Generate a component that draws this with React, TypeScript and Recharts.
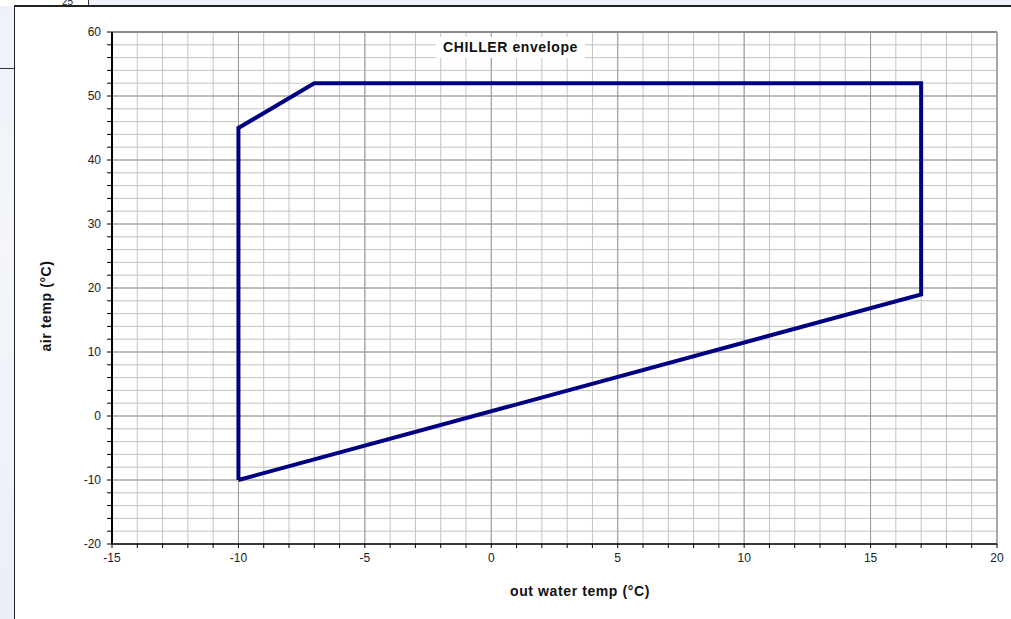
import { LineChart, Line, XAxis, YAxis, CartesianGrid, ReferenceLine } from "recharts";

// operating envelope outline, closed back to its first corner
const envelopeX = [-10, -10, -7, 17, 17, -10];
const envelopeY = [-10, 45, 52, 52, 19, -10];

const xTicks = [
  -15, -14, -13, -12, -11, -10, -9, -8, -7, -6, -5, -4, -3, -2, -1, 0, 1, 2, 3, 4,
  5, 6, 7, 8, 9, 10, 11, 12, 13, 14, 15, 16, 17, 18, 19, 20,
];
const yTicks = [
  -20, -18, -16, -14, -12, -10, -8, -6, -4, -2, 0, 2, 4, 6, 8, 10, 12, 14, 16, 18,
  20, 22, 24, 26, 28, 30, 32, 34, 36, 38, 40, 42, 44, 46, 48, 50, 52, 54, 56, 58, 60,
];
const xMajor = [-10, -5, 0, 5, 10, 15];
const yMajor = [-10, 0, 10, 20, 30, 40, 50];

const data = envelopeX.map((x, i) => ({ x, y: envelopeY[i] }));

const FONT = "'Liberation Sans', Arial, sans-serif";

const App = () => {
  return (
    <div
      style={{
        position: "absolute",
        left: 0,
        top: 0,
        width: 1011,
        height: 619,
        overflow: "hidden",
        background: "linear-gradient(180deg, #eef1fa 0%, #f4f6fc 40%, #eaeef9 100%)",
        fontFamily: FONT,
      }}
    >
      {/* sheet bits around the chart object */}
      <div
        style={{ position: "absolute", left: 0, top: 0, width: 89, height: 6, background: "#fff" }}
      />
      <div
        style={{ position: "absolute", left: 88, top: 0, width: 1, height: 6, background: "#333" }}
      />
      <div
        style={{
          position: "absolute",
          left: 62,
          top: -3,
          fontSize: 10,
          lineHeight: "10px",
          color: "#222",
        }}
      >
        25
      </div>
      <div
        style={{ position: "absolute", left: 0, top: 68, width: 14, height: 1, background: "#333" }}
      />
      <div
        style={{
          position: "absolute",
          left: 14,
          top: 5,
          width: 1011 - 14,
          height: 619 - 5,
          background: "#fff",
          borderLeft: "1px solid #222",
          borderTop: "2px solid #222",
        }}
      />

      <div style={{ position: "absolute", left: 0, top: 0 }}>
        <LineChart
          width={1011}
          height={619}
          data={data}
          margin={{ top: 32, right: 14, bottom: 45, left: 0 }}
        >
          <CartesianGrid stroke="#c4c4c4" strokeWidth={1} />
          {xMajor.map((v) => (
            <ReferenceLine key={`vx${v}`} x={v} stroke="#9a9a9a" strokeWidth={1} />
          ))}
          {yMajor.map((v) => (
            <ReferenceLine key={`hy${v}`} y={v} stroke="#9a9a9a" strokeWidth={1} />
          ))}
          <ReferenceLine y={60} stroke="#8a8a8a" strokeWidth={2} />
          <ReferenceLine x={20} stroke="#a8a8a8" strokeWidth={2} />
          <XAxis
            dataKey="x"
            type="number"
            domain={[-15, 20]}
            ticks={xTicks}
            interval={0}
            height={30}
            tickSize={4}
            tickMargin={5}
            axisLine={{ stroke: "#000", strokeWidth: 1.5 }}
            tickLine={{ stroke: "#000" }}
            tick={{ fontSize: 12, fill: "#222", fontFamily: FONT }}
            tickFormatter={(v: number) => (v % 5 === 0 ? String(v) : "")}
          />
          <YAxis
            type="number"
            domain={[-20, 60]}
            ticks={yTicks}
            interval={0}
            width={112}
            tickSize={5}
            tickMargin={6}
            axisLine={{ stroke: "#000", strokeWidth: 2 }}
            tickLine={{ stroke: "#000" }}
            tick={{ fontSize: 12, fill: "#222", fontFamily: FONT }}
            tickFormatter={(v: number) => (v % 10 === 0 ? String(v) : "")}
          />
          <Line
            type="linear"
            dataKey="y"
            stroke="#000080"
            strokeWidth={4}
            strokeLinejoin="miter"
            dot={false}
            activeDot={false}
            isAnimationActive={false}
          />
        </LineChart>
      </div>

      <div
        style={{
          position: "absolute",
          left: 436,
          top: 37,
          width: 149,
          height: 21,
          background: "#fff",
          fontSize: 14,
          fontWeight: "bold",
          letterSpacing: 0.6,
          lineHeight: "21px",
          textAlign: "center",
          color: "#111",
        }}
      >
        CHILLER envelope
      </div>
      <div
        style={{
          position: "absolute",
          left: 480,
          top: 583,
          width: 200,
          textAlign: "center",
          fontSize: 14,
          fontWeight: "bold",
          letterSpacing: 0.6,
          color: "#111",
        }}
      >
        out water temp (°C)
      </div>
      <div
        style={{
          position: "absolute",
          left: 46,
          top: 306,
          width: 200,
          textAlign: "center",
          fontSize: 14,
          fontWeight: "bold",
          letterSpacing: 0.6,
          color: "#111",
          transform: "translate(-50%, -50%) rotate(-90deg)",
          lineHeight: "16px",
        }}
      >
        air temp (°C)
      </div>
    </div>
  );
};

export default App;
